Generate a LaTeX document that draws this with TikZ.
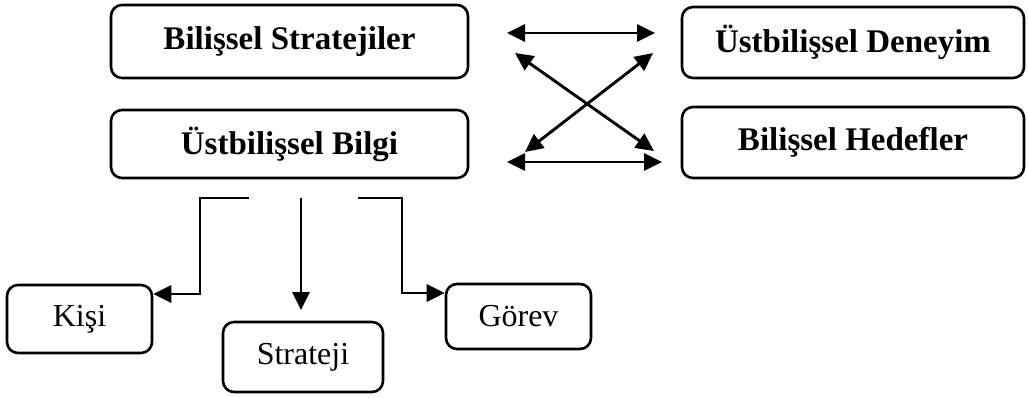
\documentclass[tikz,border=0pt]{standalone}
\usepackage{fontspec}
\setmainfont{Liberation Serif}
\usetikzlibrary{arrows.meta}
\begin{document}
\begin{tikzpicture}[x=1pt,y=-1pt,
  box/.style={draw, line width=2.6pt, rounded corners=11pt, inner sep=0pt, align=center},
  bigbox/.style={box, font=\fontsize{33}{38}\selectfont\bfseries},
  smallbox/.style={box, font=\fontsize{32}{36}\selectfont},
  tip/.tip={Triangle[length=18pt,width=17pt]},
  conn/.style={line width=2.9pt, -tip},
  dconn/.style={line width=2.9pt, tip-tip}]
\useasboundingbox (0,0) rectangle (1028,398);
\node[bigbox, minimum width=357pt, minimum height=73pt] (bs) at (289.5,41.5) {Bilişsel Stratejiler};
\node[bigbox, minimum width=342pt, minimum height=71pt] (ud) at (853,42.5) {Üstbilişsel Deneyim};
\node[bigbox, minimum width=357pt, minimum height=68pt] (ub) at (289.5,144) {Üstbilişsel Bilgi};
\node[bigbox, minimum width=342pt, minimum height=71pt] (bh) at (853,142.5) {Bilişsel Hedefler};
\node[smallbox, minimum width=145pt, minimum height=68pt] (ki) at (79.5,319) {Kişi};
\node[smallbox, minimum width=160pt, minimum height=70pt] (st) at (303,357) {Strateji};
\node[smallbox, minimum width=145pt, minimum height=65pt] (go) at (518.5,316.5) {Görev};
% double arrows between the two columns
\coordinate (t1) at (507,33);
\coordinate (t2) at (655,33);
\coordinate (b1) at (507,162);
\coordinate (b2) at (662,162);
\coordinate (d1) at (515,53);
\coordinate (d2) at (654,151);
\coordinate (e1) at (653,53);
\coordinate (e2) at (525,152);
\draw[dconn] (t1) -- (t2);
\draw[dconn] (b1) -- (b2);
\draw[dconn] (d1) -- (d2);
\draw[dconn] (e1) -- (e2);
% branches below Üstbilişsel Bilgi
\coordinate (l0) at (249,198);
\coordinate (m0) at (301,198);
\coordinate (r0) at (358,198);
\draw[conn] (l0) -- (200,198) -- (200,294) -- (ki.east |- 0,294);
\draw[conn] (m0) -- (301,310);
\draw[conn] (r0) -- (402,198) -- (402,293) -- (go.west |- 0,293);
\end{tikzpicture}
\end{document}
